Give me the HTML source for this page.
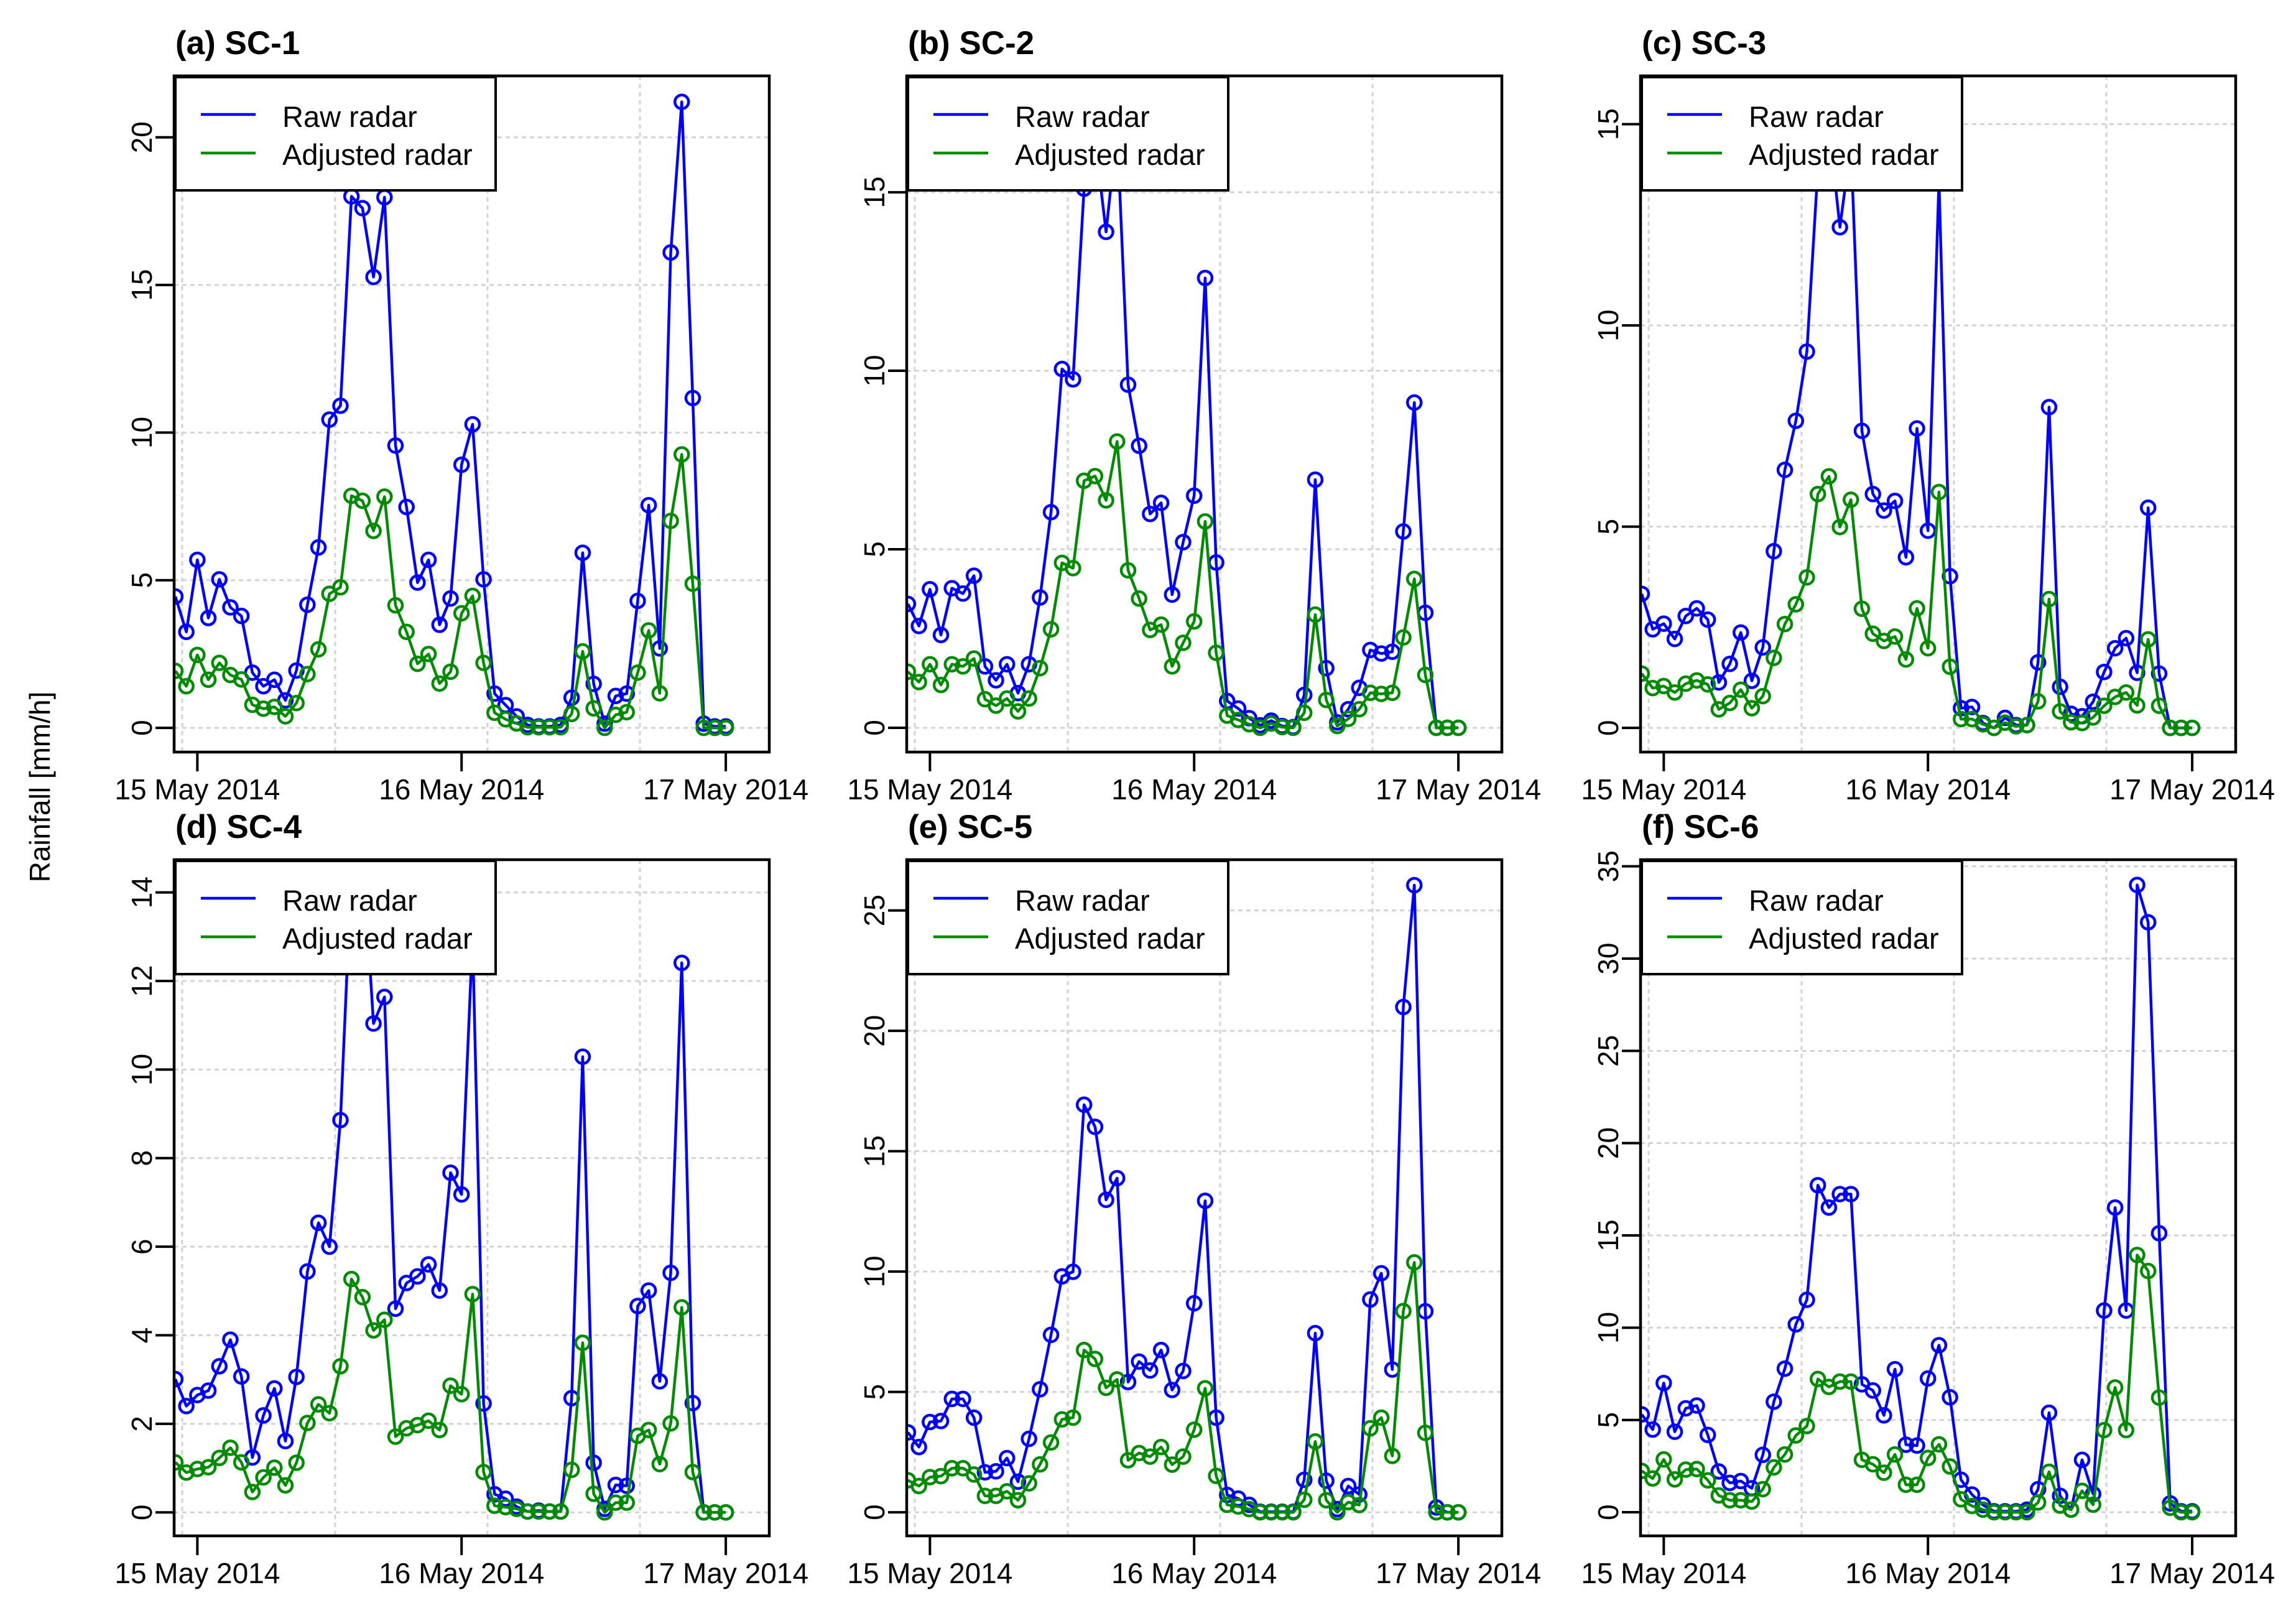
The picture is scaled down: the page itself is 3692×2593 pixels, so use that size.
<!DOCTYPE html>
<html><head><meta charset="utf-8"><style>
html,body{margin:0;padding:0;background:#fff;}
svg{display:block;}
text{font-family:"Liberation Sans",Arial,sans-serif;}
</style></head><body>
<svg id="fig" width="3692" height="2593" viewBox="0 0 3692 2593" xmlns="http://www.w3.org/2000/svg">
<rect x="0" y="0" width="3692" height="2593" fill="#fff"/>
<text transform="translate(80,1265) rotate(-90)" text-anchor="middle" font-size="46">Rainfall [mm/h]</text>
</svg>
<script>
// hour offsets relative to 15 May 2014 00:00 (one point per hour, from -2 to 48)
const hours = [];
for (let h = -2; h <= 48; h++) hours.push(h);
const xTickHours = [0, 24, 48];
const xTickLabels = ["15 May 2014", "16 May 2014", "17 May 2014"];
const xGridHours = [-1.38, 12.52, 26.36, 40.2];
const panelTitles = ["(a) SC-1", "(b) SC-2", "(c) SC-3", "(d) SC-4", "(e) SC-5", "(f) SC-6"];
const yLims = [[-0.82, 22.08], [-0.68, 18.26], [-0.60, 16.2], [-0.53, 14.74], [-0.98, 27.11], [-1.28, 35.36]];
const yTicks = [[0,5,10,15,20],[0,5,10,15],[0,5,10,15],[0,2,4,6,8,10,12,14],[0,5,10,15,20,25],[0,5,10,15,20,25,30,35]];

const raw1 = [4.45,3.25,5.69,3.72,5.03,4.08,3.79,1.87,1.41,1.63,0.93,1.94,4.17,6.11,10.44,10.91,18.0,17.6,15.27,17.97,9.56,7.48,4.92,5.69,3.49,4.38,8.91,10.28,5.03,1.16,0.77,0.39,0.1,0.05,0.05,0.1,1.02,5.93,1.49,0.14,1.08,1.16,4.30,7.54,2.69,16.1,21.2,11.17,0.14,0.05,0.05];
const adj1 = [1.93,1.41,2.47,1.63,2.2,1.79,1.64,0.78,0.65,0.71,0.39,0.84,1.82,2.66,4.54,4.76,7.86,7.69,6.67,7.83,4.15,3.25,2.17,2.5,1.5,1.9,3.88,4.47,2.2,0.51,0.29,0.15,0.02,0.02,0.02,0.02,0.47,2.59,0.66,0,0.44,0.53,1.87,3.3,1.17,7.01,9.26,4.88,0,0,0];
const raw2 = [3.47,2.85,3.88,2.6,3.91,3.76,4.26,1.72,1.33,1.78,0.97,1.78,3.65,6.04,10.05,9.76,15.1,16.5,13.89,16.8,9.61,7.9,5.99,6.3,3.73,5.2,6.5,12.6,4.63,0.75,0.54,0.27,0.07,0.2,0.05,0.02,0.92,6.95,1.67,0.15,0.52,1.12,2.18,2.08,2.13,5.5,9.11,3.22,0,0,0];
const adj2 = [1.57,1.28,1.78,1.2,1.78,1.72,1.94,0.8,0.62,0.82,0.46,0.82,1.67,2.76,4.62,4.47,6.92,7.05,6.37,8.02,4.41,3.62,2.74,2.89,1.72,2.38,2.98,5.78,2.1,0.34,0.22,0.1,0,0.12,0.02,0,0.42,3.17,0.78,0.05,0.25,0.52,0.98,0.95,0.98,2.53,4.17,1.48,0,0,0];
const raw3 = [3.33,2.45,2.59,2.21,2.78,2.97,2.69,1.13,1.59,2.37,1.17,2.0,4.39,6.41,7.63,9.35,13.9,15.0,12.44,14.5,7.38,5.81,5.4,5.64,4.24,7.44,4.9,13.6,3.77,0.49,0.52,0.12,0,0.25,0.07,0.07,1.63,7.97,1.02,0.35,0.29,0.65,1.39,1.98,2.23,1.37,5.47,1.35,0,0,0];
const adj3 = [1.35,0.99,1.04,0.88,1.1,1.18,1.08,0.46,0.62,0.95,0.49,0.79,1.74,2.58,3.07,3.74,5.81,6.25,4.99,5.67,2.96,2.34,2.16,2.27,1.7,2.97,1.98,5.86,1.52,0.22,0.22,0.09,0,0.13,0.04,0.07,0.66,3.2,0.41,0.14,0.12,0.26,0.55,0.77,0.88,0.56,2.2,0.55,0,0,0];
const raw4 = [3.01,2.4,2.65,2.75,3.3,3.9,3.07,1.24,2.19,2.8,1.61,3.06,5.44,6.54,6.0,8.86,14.5,15.0,11.04,11.64,4.6,5.18,5.33,5.6,5.01,7.67,7.18,13.0,2.46,0.41,0.31,0.13,0.02,0.04,0.02,0.02,2.58,10.29,1.12,0.08,0.62,0.6,4.66,5.01,2.96,5.41,12.41,2.47,0,0,0];
const adj4 = [1.13,0.9,0.98,1.02,1.23,1.46,1.13,0.46,0.79,1.01,0.61,1.12,2.02,2.44,2.24,3.3,5.27,4.86,4.11,4.35,1.71,1.9,1.97,2.07,1.86,2.86,2.67,4.93,0.91,0.15,0.12,0.08,0.02,0.02,0.02,0.02,0.96,3.83,0.42,0,0.22,0.22,1.73,1.86,1.09,2.01,4.63,0.91,0,0,0];
const raw5 = [3.32,2.71,3.75,3.79,4.71,4.71,3.93,1.66,1.7,2.25,1.27,3.05,5.11,7.37,9.8,9.99,16.93,16.01,12.98,13.88,5.41,6.26,5.89,6.74,5.08,5.87,8.68,12.94,3.93,0.72,0.57,0.31,0.02,0.02,0.02,0.02,1.35,7.44,1.31,0.13,1.09,0.74,8.84,9.93,5.93,20.99,26.05,8.35,0.2,0,0];
const adj5 = [1.33,1.09,1.46,1.5,1.83,1.83,1.57,0.68,0.68,0.87,0.5,1.2,1.99,2.9,3.86,3.93,6.74,6.37,5.17,5.52,2.16,2.46,2.31,2.71,1.98,2.31,3.43,5.15,1.51,0.31,0.24,0.13,0,0,0,0,0.52,2.94,0.5,0,0.42,0.3,3.49,3.93,2.34,8.36,10.38,3.3,0,0,0];
const raw6 = [5.3,4.48,7.0,4.36,5.63,5.78,4.19,2.21,1.59,1.69,1.3,3.11,5.99,7.78,10.18,11.51,17.72,16.51,17.24,17.24,6.93,6.6,5.25,7.75,3.66,3.61,7.25,9.05,6.23,1.76,0.96,0.39,0.05,0.05,0.05,0.14,1.25,5.39,0.89,0.14,2.84,0.99,10.93,16.51,10.93,33.99,31.97,15.12,0.48,0.05,0.05];
const adj6 = [2.24,1.83,2.86,1.78,2.31,2.34,1.73,0.91,0.65,0.65,0.58,1.25,2.43,3.13,4.16,4.67,7.22,6.79,7.08,7.08,2.84,2.6,2.14,3.13,1.49,1.49,2.94,3.68,2.48,0.7,0.34,0.14,0,0,0,0,0.53,2.19,0.36,0.14,1.16,0.41,4.45,6.76,4.45,13.94,13.07,6.21,0.24,0,0];
const rawSeries = [raw1, raw2, raw3, raw4, raw5, raw6];
const adjSeries = [adj1, adj2, adj3, adj4, adj5, adj6];

const NS = "http://www.w3.org/2000/svg";
const svg = document.getElementById("fig");
const XLIM = [-2.11, 51.95];
const BOX = {l: 280, r: 1237, t: 122, b: 1209};
const OFFX = [0, 1178, 2358], OFFY = [0, 1260];

function mk(tag, attrs, parent) {
  const e = document.createElementNS(NS, tag);
  for (const k in attrs) e.setAttribute(k, attrs[k]);
  (parent || svg).appendChild(e);
  return e;
}

for (let p = 0; p < 6; p++) {
  const ox = OFFX[p % 3], oy = OFFY[Math.floor(p / 3)];
  const L = BOX.l + ox, R = BOX.r + ox, T = BOX.t + oy, B = BOX.b + oy;
  const yl = yLims[p];
  const xs = h => L + (h - XLIM[0]) / (XLIM[1] - XLIM[0]) * (R - L);
  const ys = v => B - (v - yl[0]) / (yl[1] - yl[0]) * (B - T);

  const g = mk("g", {});
  
  

  const cp = mk("clipPath", {id: "clip" + p}, g);
  mk("rect", {x: L, y: T, width: R - L, height: B - T}, cp);

  // grid
  const grid = mk("g", {stroke: "#d3d3d3", "stroke-width": 3, "stroke-dasharray": "7 6", fill: "none"}, g);
  
  
  xGridHours.forEach(h => mk("line", {x1: xs(h), x2: xs(h), y1: T, y2: B}, grid));
  yTicks[p].forEach(v => mk("line", {x1: L, x2: R, y1: ys(v), y2: ys(v)}, grid));

  // series
  const plot = mk("g", {"clip-path": "url(#clip" + p + ")"}, g);
  [[rawSeries[p], "#0000ff", "raw-radar"], [adjSeries[p], "#008b00", "adjusted-radar"]].forEach(([vals, col, nm]) => {
    const sg = mk("g", {}, plot);
    
    
    const pts = vals.map((v, i) => xs(hours[i]) + "," + ys(v)).join(" ");
    mk("polyline", {points: pts, fill: "none", stroke: col, "stroke-width": 4.5, "stroke-linejoin": "round"}, sg);
    vals.forEach((v, i) => {
      const c = mk("circle", {cx: xs(hours[i]), cy: ys(v), r: 11, fill: "none", stroke: col, "stroke-width": 4.5}, sg);
      
      
    });
  });

  // box
  const bx = mk("rect", {x: L, y: T, width: R - L, height: B - T, fill: "none", stroke: "#000", "stroke-width": 4.5}, g);
  
  

  // x axis
  xTickHours.forEach((h, k) => {
    mk("line", {x1: xs(h), x2: xs(h), y1: B, y2: B + 31, stroke: "#000", "stroke-width": 4}, g);
    const t = mk("text", {x: xs(h), y: B + 76, "text-anchor": "middle", "font-size": 46}, g);
    t.textContent = xTickLabels[k];
    
    
  });
  // y axis
  yTicks[p].forEach(v => {
    mk("line", {x1: L - 30, x2: L, y1: ys(v), y2: ys(v), stroke: "#000", "stroke-width": 4}, g);
    const t = mk("text", {transform: "translate(" + (L - 36) + "," + ys(v) + ") rotate(-90)", "text-anchor": "middle", "font-size": 46}, g);
    t.textContent = String(v);
    
    
  });

  // title
  const tt = mk("text", {x: L + 2, y: T - 35, "font-size": 53, "font-weight": "bold"}, g);
  tt.textContent = panelTitles[p];
  
  

  // legend
  const lg = mk("g", {}, g);
  
  
  mk("rect", {x: L + 2, y: T + 2, width: 515, height: 182, fill: "#fff", stroke: "#000", "stroke-width": 4}, lg);
  [["Raw radar", "#0000ff", 62, 82], ["Adjusted radar", "#008b00", 124, 143]].forEach(([lab, col, ly, by]) => {
    const e = mk("g", {}, lg);
    
    
    mk("line", {x1: L + 43, x2: L + 131, y1: T + ly, y2: T + ly, stroke: col, "stroke-width": 4.5}, e);
    const t = mk("text", {x: L + 174, y: T + by, "font-size": 47}, e);
    t.textContent = lab;
  });
}
</script>
</body></html>
